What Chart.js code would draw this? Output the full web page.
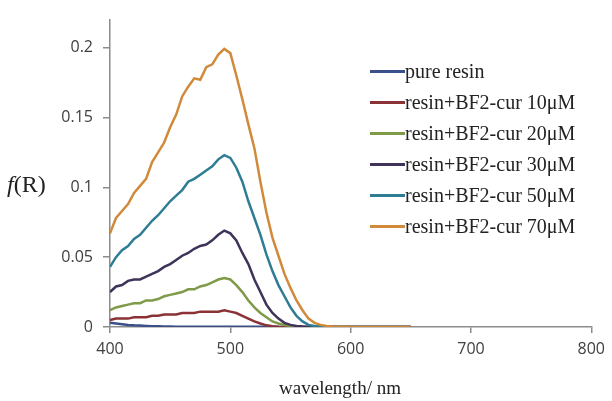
<!DOCTYPE html>
<html>
<head>
<meta charset="utf-8">
<script src="https://cdn.jsdelivr.net/npm/chart.js@4/dist/chart.umd.min.js"></script>
<style>
  html, body { margin: 0; padding: 0; background: #fff; }
  #wrap { position: relative; width: 612px; height: 401px; }
  #chart { position: absolute; left: 0; top: 0; }
  .ytitle { position: absolute; left: 7px; top: 171px; font: 24px "Liberation Serif", serif; color: #222; }
  .xtitle { position: absolute; left: 0; width: 680px; top: 377px; text-align: center; font: 19px "Liberation Serif", serif; color: #222; }
  #legend { position: absolute; left: 370px; top: 56px; }
  .row { display: flex; align-items: center; height: 31px; font: 20px "Liberation Serif", serif; color: #222; white-space: nowrap; }
  .swatch { width: 35px; height: 3px; }
</style>
</head>
<body>
<div id="wrap">
  <canvas id="chart" width="612" height="401"></canvas>
  <div class="ytitle"><i>f</i>(R)</div>
  <div class="xtitle">wavelength/ nm</div>
  <div id="legend"></div>
</div>
<script>
// wavelength (nm)
const wavelengths = [400,405,410,415,420,425,430,435,440,445,450,455,460,465,470,475,480,485,490,495,
  500,505,510,515,520,525,530,535,540,545,550,555,560,565,570,575,580,585,590,595,600,625,650];

const seriesNames = ["pure resin", "resin+BF2-cur 10μM", "resin+BF2-cur 20μM",
  "resin+BF2-cur 30μM", "resin+BF2-cur 50μM", "resin+BF2-cur 70μM"];
const seriesColors = ["#3b4f8a", "#8a3236", "#7f9a48", "#3f3359", "#2f7d94", "#d08a3a"];

const pureResin = [0.003,0.0025,0.002,0.0015,0.0012,0.001,0.0008,0.0006,0.0005,0.0004,0.0003,0.0002,0.0002,0.0001,0.0001,0.0001,0.0001,0.0001,0.0001,0.0001,
  0.0001,0.0001,0.0001,0.0001,0.0001,0.0001,0.0001,0.0001,0,0,0,0,0,0,0,0,0,0,0,0,0,0,0];
const cur10 = [0.005,0.006,0.006,0.006,0.007,0.007,0.007,0.008,0.008,0.009,0.009,0.009,0.010,0.010,0.010,0.011,0.011,0.011,0.011,0.012,
  0.011,0.010,0.008,0.006,0.004,0.0025,0.0012,0.0005,0.0002,0,0,0,0,0,0,0,0,0,0,0,0,0,0];
const cur20 = [0.012,0.014,0.015,0.016,0.017,0.017,0.019,0.019,0.020,0.022,0.023,0.024,0.025,0.027,0.027,0.029,0.030,0.032,0.034,0.035,
  0.034,0.030,0.025,0.019,0.014,0.010,0.007,0.004,0.0025,0.0015,0.0007,0.0003,0,0,0,0,0,0,0,0,0,0,0];
const cur30 = [0.025,0.029,0.030,0.033,0.034,0.034,0.036,0.038,0.040,0.043,0.045,0.048,0.051,0.053,0.056,0.058,0.059,0.062,0.066,0.069,
  0.067,0.062,0.053,0.045,0.034,0.025,0.016,0.010,0.006,0.003,0.0015,0.0007,0.0003,0,0,0,0,0,0,0,0,0,0];
const cur50 = [0.043,0.050,0.055,0.058,0.063,0.066,0.071,0.076,0.080,0.085,0.090,0.094,0.098,0.104,0.106,0.109,0.112,0.115,0.120,0.123,
  0.121,0.114,0.104,0.090,0.078,0.066,0.052,0.040,0.030,0.022,0.014,0.008,0.004,0.0015,0.0007,0.0003,0.0001,0,0,0,0,0,0];
const cur70 = [0.067,0.078,0.083,0.088,0.096,0.101,0.106,0.118,0.125,0.132,0.143,0.152,0.165,0.172,0.178,0.177,0.186,0.188,0.195,0.199,
  0.196,0.180,0.163,0.145,0.128,0.104,0.082,0.064,0.051,0.038,0.028,0.019,0.012,0.006,0.003,0.0015,0.0008,0.0004,0.0002,0.0001,0,0,0];

const seriesValues = [pureResin, cur10, cur20, cur30, cur50, cur70];

const datasets = seriesValues.map((vals, i) => ({
  label: seriesNames[i],
  data: vals.map((v, j) => ({ x: wavelengths[j], y: v })),
  borderColor: seriesColors[i],
  borderWidth: 2.5,
  pointRadius: 0,
  tension: 0,
  fill: false,
  order: seriesValues.length - i
}));

const axisGray = "#8c8c8c";

new Chart(document.getElementById("chart"), {
  type: "line",
  data: { datasets: datasets },
  options: {
    responsive: false,
    animation: false,
    layout: { padding: { left: 0, right: 16, top: 16, bottom: 0 } },
    plugins: { legend: { display: false }, tooltip: { enabled: false } },
    scales: {
      x: {
        type: "linear",
        min: 400, max: 800,
        afterFit: (scale) => { scale.height = 74; },
        border: { color: axisGray, width: 1.5 },
        grid: { display: true, drawOnChartArea: false, tickLength: 6, color: axisGray, lineWidth: 1.5 },
        ticks: { stepSize: 100, padding: 7, color: "#404040", font: { family: "Open Sans", size: 16 } }
      },
      y: {
        min: 0, max: 0.22,
        afterFit: (scale) => { scale.width = 110; },
        afterBuildTicks: (scale) => { scale.ticks = scale.ticks.filter(t => Math.abs(t.value * 20 - Math.round(t.value * 20)) < 1e-6); },
        border: { color: axisGray, width: 1.5 },
        grid: { display: true, drawOnChartArea: false, tickLength: 7, color: axisGray, lineWidth: 1.5 },
        ticks: {
          stepSize: 0.05, padding: 10, color: "#404040", font: { family: "Open Sans", size: 16 },
          callback: (v) => String(Number(v.toFixed(2)))
        }
      }
    }
  }
});

// legend built from the same series
const legend = document.getElementById("legend");
seriesNames.forEach((name, i) => {
  const row = document.createElement("div");
  row.className = "row";
  const sw = document.createElement("span");
  sw.className = "swatch";
  sw.style.background = seriesColors[i];
  const txt = document.createElement("span");
  txt.textContent = name;
  row.appendChild(sw);
  row.appendChild(txt);
  legend.appendChild(row);
});
</script>
</body>
</html>
